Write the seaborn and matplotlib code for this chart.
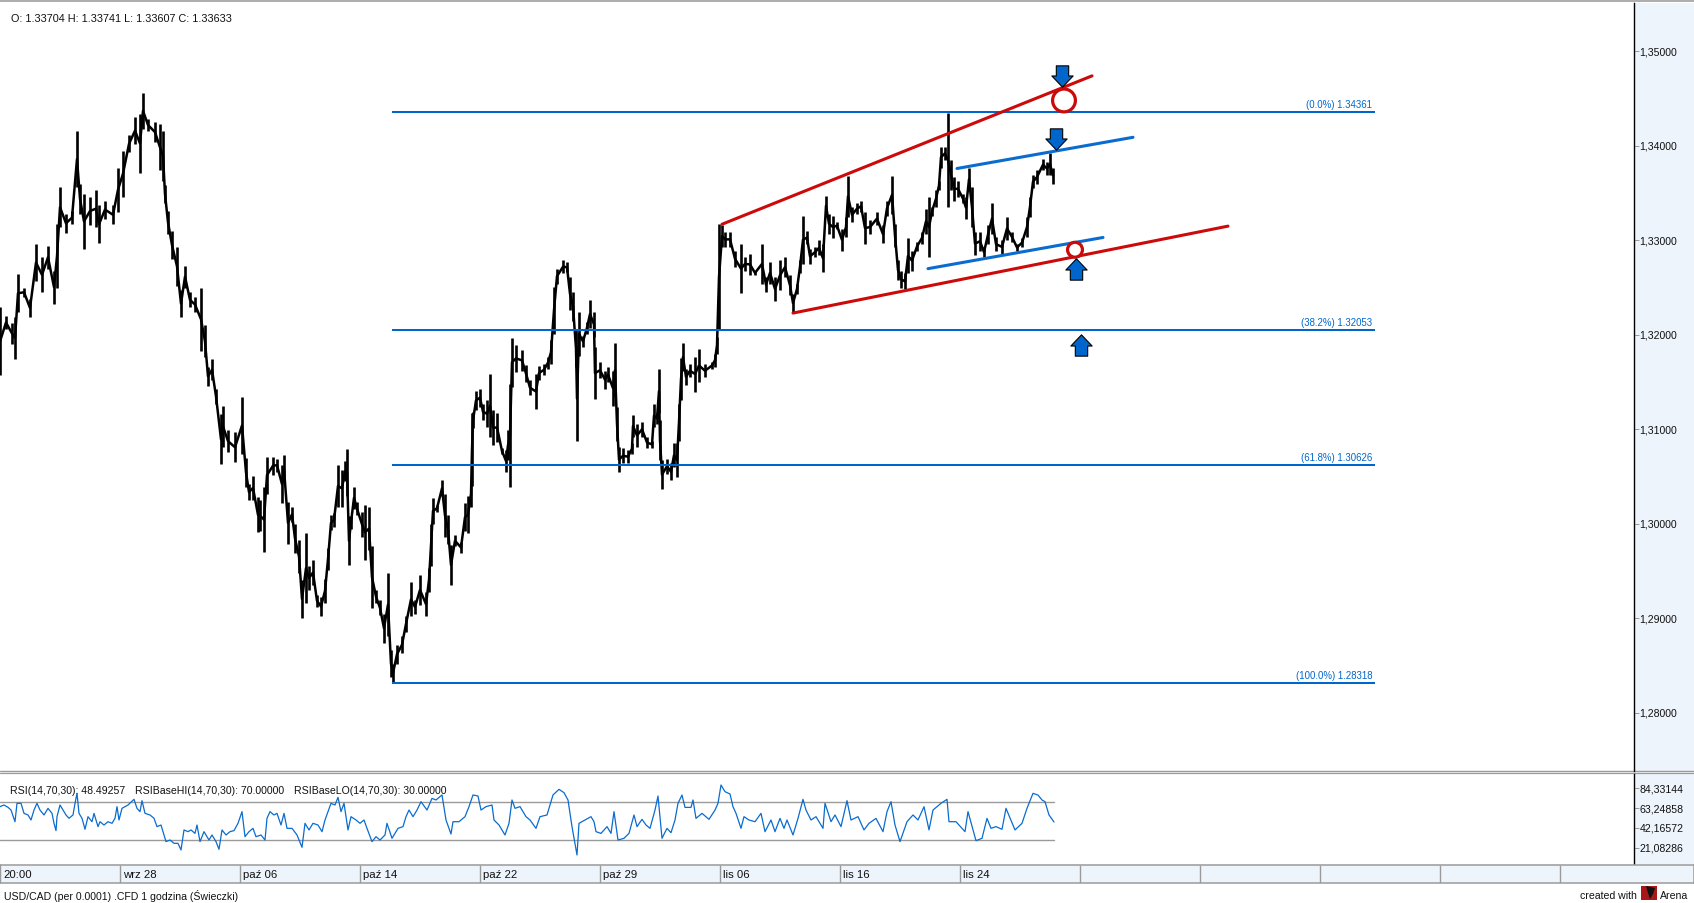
import matplotlib
matplotlib.use("Agg")
import matplotlib.pyplot as plt
import numpy as np
import pandas as pd
import seaborn as sns
from matplotlib.path import Path
from matplotlib.patches import Rectangle, Polygon

sns.set_theme(style="white")
plt.rcParams['font.family'] = ['Liberation Sans', 'DejaVu Sans']

# bar position (hours on chart), high and low in pips (per 0.0001)
bar_x = [0,6,12,15,18,24,30,36,42,48,54,57,60,66,72,77,80,84,90,96,99,105,113,118,123,129,135,140,143,148,155,160,163,165,168,172,177,181,185,190,195,201,205,208,212,216,221,223,228,235,242,246,249,253,258,
260,264,267,273,277,282,284,288,292,295,299,302,306,309,313,317,321,325,328,331,334,338,342,345,347,349,351,354,357,362,365,369,372,376,380,384,388,391,393,397,402,406,411,415,420,426,429,431,433,437,442,445,448,451,455,461,465,468,471,472,
473,476,480,483,487,490,493,497,502,506,508,510,512,516,522,526,530,536,539,544,548,551,554,557,563,567,570,573,576,577,579,583,587,590,594,595,600,605,608,613,615,617,619,623,628,632,633,637,642,647,652,654,657,659,660,662,667,671,674,677,679,681,683,686,690,695,699,705,712,715,717,719,
722,725,730,735,741,745,750,755,762,766,770,775,780,785,790,793,797,800,803,807,810,815,819,823,826,829,833,837,842,846,848,852,857,861,865,870,877,883,887,892,895,898,901,905,908,912,917,922,926,929,932,936,939,941,945,948,951,954,958,963,966,969,972,975,980,984,988,992,996,1002,1007,1012,1017,1022,1027,1030,1033,1037,1043,1047,1050,1053]
bar_hi = [13229,13220,13213,13219,13264,13250,13238,13296,13282,13294,13268,13317,13356,13328,13331,13416,13360,13349,13346,13353,13337,13342,13337,13377,13395,13411,13430,13434,13456,13428,13425,13423,13416,13358,13331,13310,13293,13247,13273,13245,13240,13250,13210,13166,13174,13143,13116,13125,13099,13097,13134,13070,13042,13051,13028,
13025,13039,13071,13071,13069,13062,13073,13023,13018,13000,12983,12941,12990,12955,12962,12925,12923,12942,12974,13009,13011,13062,13057,13066,13079,13008,13008,13039,13023,13013,13020,13018,12976,12930,12919,12905,12948,12866,12852,12872,12881,12902,12938,12919,12946,12928,12953,13000,13027,13020,13046,13032,13009,12978,12988,12981,13022,13029,13045,13117,
13118,13141,13143,13127,13131,13158,13120,13117,13080,13078,13099,13148,13197,13189,13184,13168,13152,13159,13167,13169,13177,13194,13251,13270,13279,13277,13261,13245,13205,13177,13224,13199,13214,13237,13224,13187,13171,13162,13166,13162,13191,13124,13081,13080,13078,13085,13115,13106,13108,13092,13088,13127,13117,13164,13110,13067,13069,13064,13085,13085,13127,13175,13191,13164,13169,13177,13185,13169,13171,13180,13198,13317,
13316,13309,13309,13289,13296,13282,13286,13268,13296,13261,13277,13261,13279,13282,13263,13243,13254,13279,13326,13310,13291,13293,13300,13296,13347,13328,13326,13319,13312,13325,13368,13335,13339,13342,13330,13321,13330,13316,13342,13368,13317,13279,13268,13265,13302,13289,13298,13309,13333,13346,13335,13353,13363,13399,13399,13435,13385,13367,13363,13349,13346,13376,13356,13309,13309,13293,13316,13339,13303,13300,13325,13309,13296,13302,13325,13346,13369,13374,13386,13383,13392,13377]
bar_lo = [13157,13206,13190,13174,13224,13240,13219,13257,13245,13270,13233,13249,13314,13308,13317,13356,13328,13291,13316,13314,13297,13323,13317,13330,13346,13393,13402,13371,13418,13416,13404,13374,13363,13340,13307,13280,13252,13219,13250,13229,13224,13183,13176,13146,13152,13127,13063,13081,13076,13065,13074,13039,13025,13025,12991,
12992,12970,13032,13052,13055,13022,13043,12979,13002,12969,12948,12900,12916,12930,12935,12912,12902,12916,12951,12993,12997,13018,13018,13045,13029,12956,12995,13016,13009,12986,12962,12972,12911,12916,12903,12874,12881,12838,12832,12852,12863,12886,12902,12905,12914,12902,12928,12955,13000,13013,13029,12986,12979,12935,12976,12969,12992,12990,13018,13040,
13101,13120,13124,13110,13102,13092,13083,13087,13074,13055,13067,13039,13145,13161,13162,13150,13136,13121,13152,13157,13164,13169,13201,13254,13265,13266,13226,13215,13166,13088,13178,13187,13201,13207,13198,13132,13154,13143,13150,13125,13134,13088,13055,13064,13064,13074,13092,13081,13092,13080,13080,13102,13106,13117,13067,13037,13053,13046,13060,13050,13088,13131,13162,13147,13155,13140,13150,13155,13164,13166,13180,13205,
13293,13293,13293,13272,13244,13268,13263,13263,13254,13245,13254,13236,13247,13261,13242,13224,13243,13265,13275,13296,13275,13282,13284,13266,13326,13307,13302,13312,13289,13303,13325,13319,13328,13330,13296,13307,13316,13297,13326,13328,13293,13258,13250,13248,13265,13268,13289,13296,13307,13282,13326,13335,13353,13377,13385,13335,13353,13342,13346,13339,13323,13353,13314,13284,13289,13282,13296,13307,13289,13286,13300,13298,13289,13293,13303,13325,13355,13360,13374,13369,13369,13360]

rsi_x = [0,4,8,11,15,17,21,24,28,31,34,37,40,44,48,52,54,56,57,60,63,66,69,73,75,77,79,82,85,88,92,94,98,100,104,108,112,115,117,119,122,128,134,137,140,142,145,150,154,157,161,164,166,170,174,178,181,184,188,191,195,197,200,204,209,212,216,219,222,226,230,234,238,242,245,249,253,256,261,265,267,270,274,277,281,284,287,292,297,302,305,309,313,318,322,325,328,331,335,338,341,344,348,351,356,360,364,367,372,376,380,385,387,392,398,403,406,409,413,417,421,427,432,436,442,446,451,453,459,465,469,473,478,481,486,492,494,499,505,509,512,515,520,526,530,536,540,547,553,559,564,568,572,577,
579,585,591,594,596,601,607,611,614,618,624,629,634,637,642,646,650,655,658,662,667,671,675,678,682,685,691,693,696,702,709,715,718,721,725,730,733,736,741,744,749,755,761,765,771,775,780,784,787,793,798,803,806,811,816,823,825,831,835,841,847,851,858,864,869,876,883,887,891,895,900,907,913,918,924,929,933,941,947,949,956,965,968,976,982,987,991,996,1002,1006,1015,1022,1027,1033,1038,1042,1045,1049,1054]
rsi_v = [64.7,66.4,64,61.1,48.8,68.2,68.2,57.6,55.9,50.6,61.1,68.2,61.1,55.9,62.9,57.6,47.1,39.4,54.1,66.4,61.1,55.9,52.4,55.9,68.2,78.7,57.6,52.4,40.8,54.1,48.8,57.6,43.6,48.8,45.3,48.8,47.1,52.4,64.7,50.6,62.9,66.4,72.4,62.9,59.4,71,57.6,55.9,52.4,43.6,45.3,34.8,27.8,29.5,26,26,19,40.1,38.3,40.1,36.5,45.3,27.8,38.3,29.5,34.8,27.8,19.7,40.1,34.8,38.3,39.4,47.1,59.4,33,38.3,41.8,33,34.8,29.5,52.4,59.4,55.9,57.6,45.3,57.6,41.8,41.8,34.8,21.8,47.1,40.1,47.1,45.3,38.3,50.6,59.4,68.2,66.4,74.5,59.4,68.2,40.1,54.1,50.6,47.1,50.6,41.8,27.8,33,29.5,34.8,47.1,31.3,41.8,43.6,54.1,61.1,54.1,61.1,69.9,61.1,73.4,71.7,77,50.6,35.8,48.8,48.8,54.1,64.7,77,75.9,61.1,64.7,66.4,50.6,45.3,34.8,47.1,71.7,62.9,64.7,54.1,50.6,41.8,54.1,55.9,77,82.9,79.4,71.7,43.6,13.7,
47.1,50.6,54.1,48.8,38.3,36.5,43.6,36.5,59.4,29.5,31.3,36.5,55.9,43.6,51.3,45.3,41.8,61.1,75.9,31.3,41.8,37.2,50.6,68.2,76.9,63.9,63.9,71.7,52.3,57.6,51.3,61.1,68.2,87.5,80.5,78,64.6,57.6,41.8,54.1,50.6,48.8,57.6,38.3,50.6,38.3,52.3,41.8,50.6,34.8,52.3,72.4,61.1,50.6,54.1,41.8,68.2,48.8,55.9,43.6,71,50.6,54.1,40.1,47.1,52.3,38.3,59.4,69.9,45.3,27.8,48.8,55.9,50.6,64.6,40.1,61.1,68.2,72.4,48.8,48.8,38.3,59.4,28.8,31.3,52.3,41.8,43.6,40.8,62.9,40.1,47.1,62.9,78.7,76.9,71.7,69.9,55.9,48.49]

fib_levels = [1.34361, 1.32053, 1.30626, 1.28318]
fib_labels = ["(0.0%) 1.34361", "(38.2%) 1.32053", "(61.8%) 1.30626", "(100.0%) 1.28318"]
fib_span = [392, 1375]

red_upper = ([722, 1092], [1.3317, 1.3474])
red_lower = ([793, 1228], [1.3223, 1.3315])
blue_upper = ([957, 1133], [1.3376, 1.3409])
blue_lower = ([928, 1103], [1.3270, 1.3303])

circle_x = [1064, 1075]
circle_p = [1.3448, 1.3290]
circle_size = [270, 115]
down_x = [1062, 1056]
down_p = [1.3474, 1.3407]
up_x = [1076, 1081]
up_p = [1.3270, 1.3189]

price_ticks = [1.35, 1.34, 1.33, 1.32, 1.31, 1.30, 1.29, 1.28]
rsi_ticks = [84.33144, 63.24858, 42.16572, 21.08286]
rsi_base = [70, 30]
date_ticks = [0, 120, 240, 360, 480, 600, 720, 840, 960, 1080, 1200, 1320, 1440, 1560]
date_labels = ["20:00", "wrz 28", "paź 06", "paź 14", "paź 22", "paź 29", "lis 06", "lis 16", "lis 24"]

W, H = 1694, 903
BLUE = "#0066CC"
RED = "#CC0A0A"
STRIP = "#EEF4FC"
GRAY = "#9A9A9A"
TXT = 7.6

fig = plt.figure(figsize=((W + 0.001) / 100, (H + 0.001) / 100), dpi=100, facecolor="white")

def px_axes(x0, y0, x1, y1):
    return fig.add_axes([x0 / W, 1 - y1 / H, (x1 - x0) / W, (y1 - y0) / H])

# right-hand scale background, kept behind the axes
for y0, y1 in [(3, 771), (774, 864)]:
    fig.add_artist(Rectangle((1634 / W, 1 - y1 / H), 60 / W, (y1 - y0) / H, transform=fig.transFigure,
                             facecolor=STRIP, edgecolor="none", zorder=-1))
for y, h in [(1.5, 1.6), (771.5, 1.4), (773.5, 1.2)]:
    fig.add_artist(plt.Line2D([0, 1], [1 - y / H] * 2, color=GRAY, lw=h * 0.72, zorder=-1))

def style_axes(ax, ticks, fmt):
    ax.set_xlim(0, 1634)
    ax.yaxis.tick_right()
    ax.set_yticks(ticks)
    ax.set_yticklabels([fmt(t).replace(".", ",") for t in ticks], fontsize=TXT, color="#111111")
    ax.tick_params(axis="y", length=3.5, width=0.7, color=GRAY, pad=0.5, right=True)
    ax.set_xticks([])
    ax.set_xlabel("")
    ax.set_ylabel("")
    ax.patch.set_alpha(0)
    for s in ["top", "left", "bottom"]:
        ax.spines[s].set_visible(False)
    ax.spines["right"].set_color("black")
    ax.spines["right"].set_linewidth(1.0)

# price pane
ax = px_axes(0, 3.3, 1634, 771.3)
bars = pd.DataFrame({"x": bar_x, "hi": np.array(bar_hi) / 1e4, "lo": np.array(bar_lo) / 1e4})
bars["mid"] = (bars.hi + bars.lo) / 2
ax.vlines(bars.x, bars.lo, bars.hi, color="black", lw=1.9, zorder=2)
sns.lineplot(data=bars, x="x", y="mid", color="black", lw=1.8, ax=ax, zorder=2, estimator=None, sort=False)

for lv, lab in zip(fib_levels, fib_labels):
    ax.plot(fib_span, [lv, lv], color=BLUE, lw=1.45, zorder=3, solid_capstyle="butt")
    ax.text(fib_span[1] - 3, lv + 0.00022, lab, color=BLUE, fontsize=6.9, ha="right", va="bottom")

for (xs, ys), c in [(red_upper, RED), (red_lower, RED), (blue_upper, "#0A6CCF"), (blue_lower, "#0A6CCF")]:
    sns.lineplot(x=xs, y=ys, color=c, lw=2.2, ax=ax, zorder=4, estimator=None)

sns.scatterplot(x=circle_x, y=circle_p, s=circle_size, facecolor="white", edgecolor=RED, linewidth=2.3,
                ax=ax, zorder=5, legend=False)

down_path = Path([(-.58, 1), (.58, 1), (.58, .05), (1, .05), (0, -1), (-1, .05), (-.58, .05), (-.58, 1)], closed=True)
up_path = Path([(-.58, -1), (.58, -1), (.58, -.05), (1, -.05), (0, 1), (-1, -.05), (-.58, -.05), (-.58, -1)], closed=True)
ax.scatter(down_x, down_p, marker=down_path, s=235, facecolor=BLUE, edgecolor="black", linewidth=0.8, zorder=6)
ax.scatter(up_x, up_p, marker=up_path, s=235, facecolor=BLUE, edgecolor="black", linewidth=0.8, zorder=6)

ax.set_ylim(1.27381, 1.35508)
style_axes(ax, price_ticks, lambda t: f"{t:.5f}")
fig.text(11 / W, 1 - 19 / H, "O: 1.33704 H: 1.33741 L: 1.33607 C: 1.33633", fontsize=7.8, va="center", color="#111111")

# RSI pane
ax2 = px_axes(0, 774, 1634, 864)
for b in rsi_base:
    ax2.plot([0, 1054], [b, b], color=GRAY, lw=1.0, zorder=1)
sns.lineplot(x=rsi_x, y=rsi_v, color="#0A6CCF", lw=0.9, ax=ax2, zorder=2, estimator=None)
ax2.set_ylim(4.2, 99.1)
style_axes(ax2, rsi_ticks, lambda t: f"{t:.5f}")
for x, s in [(10, "RSI(14,70,30): 48.49257"), (135, "RSIBaseHI(14,70,30): 70.00000"), (293.5, "RSIBaseLO(14,70,30): 30.00000")]:
    fig.text(x / W, 1 - 790.5 / H, s, fontsize=TXT, va="center", color="#111111")

# date strip
ax3 = px_axes(0, 865, W, 883)
ax3.set_facecolor(STRIP)
ax3.set_xlim(0, W)
ax3.set_ylim(0, 1)
ax3.set_xticks([])
ax3.set_yticks([])
for s in ax3.spines.values():
    s.set_color(GRAY)
    s.set_linewidth(1.1)
ax3.vlines(date_ticks, 0, 1, color=GRAY, lw=1.0)
for x, lab in zip(date_ticks, date_labels):
    ax3.text(x + 3, 0.47, lab, fontsize=8.2, va="center", color="#111111")

# footer
fig.text(4 / W, 1 - 895.5 / H, "USD/CAD (per 0.0001) .CFD 1 godzina (Świeczki)", fontsize=TXT, va="center", color="#111111")
fig.text(1637 / W, 1 - 895.5 / H, "created with", fontsize=TXT, va="center", ha="right", color="#111111")
fig.text(1660 / W, 1 - 895.5 / H, "Arena", fontsize=TXT, va="center", color="#111111")
fig.add_artist(Rectangle((1641 / W, 1 - 900 / H), 16 / W, 14 / H, transform=fig.transFigure, facecolor="#A81818", edgecolor="none"))
fig.add_artist(Polygon([[1646 / W, 1 - 886 / H], [1655 / W, 1 - 888 / H], [1653 / W, 1 - 894 / H], [1650 / W, 1 - 899 / H], [1648 / W, 1 - 893 / H]],
                       transform=fig.transFigure, facecolor="#111111", edgecolor="none"))

fig.savefig("out.png", dpi=100, facecolor="white")
